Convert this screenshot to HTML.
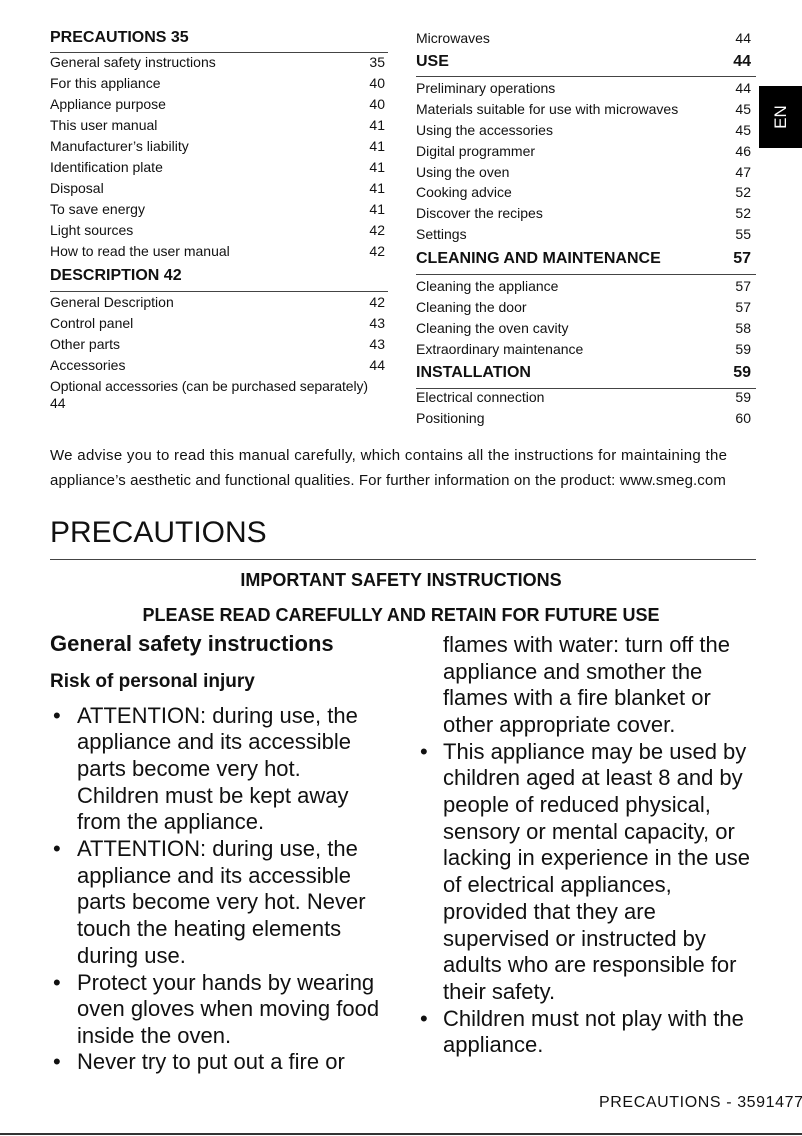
<!DOCTYPE html>
<html><head><meta charset="utf-8"><style>
body{margin:0;width:802px;height:1136px;position:relative;background:#fff;font-family:"Liberation Sans",sans-serif;color:#111;overflow:hidden}
.a{position:absolute;white-space:nowrap}
.r{position:absolute;height:18px;line-height:18px;font-size:14px;white-space:nowrap}
.r span{position:absolute;right:0;top:0}
.L{left:50px;width:335px}.R{left:416px;width:335px}
.h{font-weight:bold;font-size:16px}
.rule{position:absolute;height:1px;background:#444}
.b{position:absolute;font-size:22px;line-height:26px;white-space:nowrap;height:26px}
.dot{position:absolute;font-size:22px;line-height:26px}
</style></head><body>
<div class="r L h" style="top:29px">PRECAUTIONS 35</div>
<div class="rule" style="left:50px;width:338px;top:52px"></div>
<div class="r L" style="top:53px">General safety instructions<span>35</span></div>
<div class="r L" style="top:74px">For this appliance<span>40</span></div>
<div class="r L" style="top:95px">Appliance purpose<span>40</span></div>
<div class="r L" style="top:116px">This user manual<span>41</span></div>
<div class="r L" style="top:137px">Manufacturer’s liability<span>41</span></div>
<div class="r L" style="top:158px">Identification plate<span>41</span></div>
<div class="r L" style="top:179px">Disposal<span>41</span></div>
<div class="r L" style="top:200px">To save energy<span>41</span></div>
<div class="r L" style="top:221px">Light sources<span>42</span></div>
<div class="r L" style="top:242px">How to read the user manual<span>42</span></div>
<div class="r L h" style="top:267px">DESCRIPTION 42</div>
<div class="rule" style="left:50px;width:338px;top:291px"></div>
<div class="r L" style="top:293px">General Description<span>42</span></div>
<div class="r L" style="top:314px">Control panel<span>43</span></div>
<div class="r L" style="top:335px">Other parts<span>43</span></div>
<div class="r L" style="top:356px">Accessories<span>44</span></div>
<div class="r L" style="top:377px;letter-spacing:-0.1px">Optional accessories (can be purchased separately)</div>
<div class="r L" style="top:394px">44</div>

<div class="r R" style="top:29px">Microwaves<span>44</span></div>
<div class="r R h" style="top:53px">USE<span>44</span></div>
<div class="rule" style="left:416px;width:340px;top:76px"></div>
<div class="r R" style="top:79px">Preliminary operations<span>44</span></div>
<div class="r R" style="top:100px">Materials suitable for use with microwaves<span>45</span></div>
<div class="r R" style="top:121px">Using the accessories<span>45</span></div>
<div class="r R" style="top:142px">Digital programmer<span>46</span></div>
<div class="r R" style="top:163px">Using the oven<span>47</span></div>
<div class="r R" style="top:183px">Cooking advice<span>52</span></div>
<div class="r R" style="top:204px">Discover the recipes<span>52</span></div>
<div class="r R" style="top:225px">Settings<span>55</span></div>
<div class="r R h" style="top:250px">CLEANING AND MAINTENANCE<span>57</span></div>
<div class="rule" style="left:416px;width:340px;top:274px"></div>
<div class="r R" style="top:277px">Cleaning the appliance<span>57</span></div>
<div class="r R" style="top:298px">Cleaning the door<span>57</span></div>
<div class="r R" style="top:319px">Cleaning the oven cavity<span>58</span></div>
<div class="r R" style="top:340px">Extraordinary maintenance<span>59</span></div>
<div class="r R h" style="top:364px">INSTALLATION<span>59</span></div>
<div class="rule" style="left:416px;width:340px;top:388px"></div>
<div class="r R" style="top:388px">Electrical connection<span>59</span></div>
<div class="r R" style="top:409px">Positioning<span>60</span></div>

<div class="a" style="left:759px;top:86px;width:43px;height:62px;background:#000"></div>
<div class="a" style="left:759px;top:86px;width:43px;height:62px;color:#fff;font-size:17px;display:flex;align-items:center;justify-content:center"><div style="transform:rotate(-90deg)">EN</div></div>

<div class="a" style="left:50px;top:446px;font-size:15px;line-height:20px;letter-spacing:0.3px">We advise you to read this manual carefully, which contains all the instructions for maintaining the</div>
<div class="a" style="left:50px;top:471px;font-size:15px;line-height:20px;letter-spacing:0.1px">appliance’s aesthetic and functional qualities. For further information on the product: www.smeg.com</div>

<div class="a" style="left:50px;top:514px;font-size:30px;line-height:38px">PRECAUTIONS</div>
<div class="rule" style="left:50px;width:706px;top:559px"></div>
<div class="a" style="left:0;width:802px;text-align:center;top:569px;font-size:18px;line-height:22px;font-weight:bold">IMPORTANT SAFETY INSTRUCTIONS</div>
<div class="a" style="left:0;width:802px;text-align:center;top:604px;font-size:18px;line-height:22px;font-weight:bold">PLEASE READ CAREFULLY AND RETAIN FOR FUTURE USE</div>
<div class="a" style="left:50px;top:631px;font-size:22px;line-height:26px;font-weight:bold">General safety instructions</div>
<div class="a" style="left:50px;top:670px;font-size:19px;line-height:24px;font-weight:bold">Risk of personal injury</div>

<div class="dot" style="left:53px;top:703px">•</div>
<div class="b" style="left:77px;top:703px">ATTENTION: during use, the</div>
<div class="b" style="left:77px;top:729px">appliance and its accessible</div>
<div class="b" style="left:77px;top:756px">parts become very hot.</div>
<div class="b" style="left:77px;top:783px">Children must be kept away</div>
<div class="b" style="left:77px;top:809px">from the appliance.</div>
<div class="dot" style="left:53px;top:836px">•</div>
<div class="b" style="left:77px;top:836px">ATTENTION: during use, the</div>
<div class="b" style="left:77px;top:863px">appliance and its accessible</div>
<div class="b" style="left:77px;top:889px">parts become very hot. Never</div>
<div class="b" style="left:77px;top:916px">touch the heating elements</div>
<div class="b" style="left:77px;top:943px">during use.</div>
<div class="dot" style="left:53px;top:970px">•</div>
<div class="b" style="left:77px;top:970px">Protect your hands by wearing</div>
<div class="b" style="left:77px;top:996px">oven gloves when moving food</div>
<div class="b" style="left:77px;top:1023px">inside the oven.</div>
<div class="dot" style="left:53px;top:1049px">•</div>
<div class="b" style="left:77px;top:1049px">Never try to put out a fire or</div>

<div class="b" style="left:443px;top:632px">flames with water: turn off the</div>
<div class="b" style="left:443px;top:659px">appliance and smother the</div>
<div class="b" style="left:443px;top:685px">flames with a fire blanket or</div>
<div class="b" style="left:443px;top:712px">other appropriate cover.</div>
<div class="dot" style="left:420px;top:739px">•</div>
<div class="b" style="left:443px;top:739px">This appliance may be used by</div>
<div class="b" style="left:443px;top:765px">children aged at least 8 and by</div>
<div class="b" style="left:443px;top:792px">people of reduced physical,</div>
<div class="b" style="left:443px;top:819px">sensory or mental capacity, or</div>
<div class="b" style="left:443px;top:845px">lacking in experience in the use</div>
<div class="b" style="left:443px;top:872px">of electrical appliances,</div>
<div class="b" style="left:443px;top:899px">provided that they are</div>
<div class="b" style="left:443px;top:926px">supervised or instructed by</div>
<div class="b" style="left:443px;top:952px">adults who are responsible for</div>
<div class="b" style="left:443px;top:979px">their safety.</div>
<div class="dot" style="left:420px;top:1006px">•</div>
<div class="b" style="left:443px;top:1006px">Children must not play with the</div>
<div class="b" style="left:443px;top:1032px">appliance.</div>

<div class="a" style="left:599px;top:1093px;font-size:16px;line-height:20px;letter-spacing:0.6px">PRECAUTIONS - 3591477</div>
<div class="a" style="left:0;top:1133px;width:802px;height:2px;background:#333"></div>
</body></html>
